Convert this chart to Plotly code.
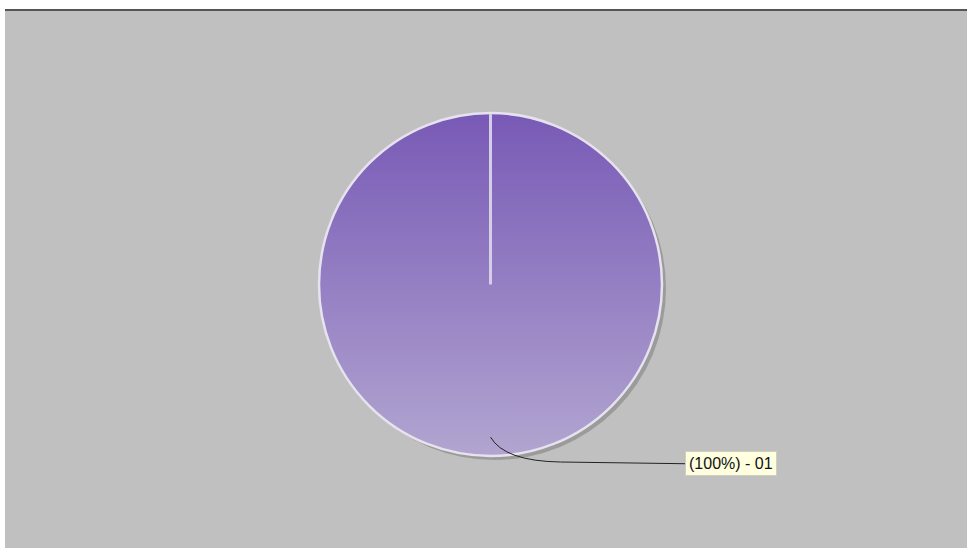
import numpy as np
import plotly.graph_objects as go

# ---- data ----
labels = ["01"]
values = [100]
label_texts = ["(100%) - 01"]

# ---- geometry (pixel space of the 971x548 canvas) ----
W, H = 971, 548
ML, MR, MT, MB = 5, 4, 10, 0
CX, CY, R = 490.5, 284.5, 171.5

top_c = (120, 90, 182)
bot_c = (178, 166, 208)
alpha = 0.3
mid = (149, 130, 192)
def under(c):
    return "rgb(%d,%d,%d)" % tuple(max(0, min(255, round((c[i] - alpha * mid[i]) / (1 - alpha)))) for i in range(3))

fig = go.Figure()

# gradient underlay for the slice
t = np.linspace(0, 2 * np.pi, 361)
fig.add_trace(go.Scatter(
    x=CX + R * np.cos(t), y=CY + R * np.sin(t),
    mode="lines", line=dict(width=0), fill="toself",
    fillgradient=dict(type="vertical", start=CY - R, stop=CY + R,
                      colorscale=[[0, under(top_c)], [1, under(bot_c)]]),
    hoverinfo="skip", showlegend=False))

pw = W - ML - MR
ph = H - MT - MB
fig.add_trace(go.Pie(
    labels=labels, values=values, sort=False, direction="clockwise", rotation=0,
    marker=dict(colors=["rgba(%d,%d,%d,%.2f)" % (*mid, alpha)],
                line=dict(color="#E6E2EE", width=2.5)),
    textinfo="none", hoverinfo="label+percent", showlegend=False,
    domain=dict(x=[(CX - R - ML) / pw, (CX + R - ML) / pw],
                y=[(H - CY - R - MB) / ph, (H - CY + R - MB) / ph])))

LY = CY + R * 1.045
shapes = [
    # drop shadow
    dict(type="circle", xref="x", yref="y", layer="below",
         x0=CX - R + 4, x1=CX + R + 4, y0=CY - R + 4, y1=CY + R + 4,
         fillcolor="rgba(140,140,140,0.7)", line=dict(width=0)),
    # radial slice edge
    dict(type="line", xref="x", yref="y", x0=CX, x1=CX, y0=CY, y1=CY - R + 1,
         line=dict(color="#D6CDE6", width=3)),
    # connector
    dict(type="path", xref="x", yref="y",
         path="M %f,%f Q %f,%f %f,%f L %f,%f" % (CX, CY + R * 0.89, CX + 14, CY + R * 1.03,
                                                   CX + 70, CY + R * 1.035, 685, LY),
         line=dict(color="#222222", width=1)),
    # top border line
    dict(type="line", xref="paper", yref="paper", x0=0, x1=1, y0=1, y1=1,
         line=dict(color="#555555", width=2)),
]

fig.update_layout(
    width=W, height=H,
    margin=dict(l=ML, r=MR, t=MT, b=MB),
    paper_bgcolor="white", plot_bgcolor="#C0C0C0",
    xaxis=dict(range=[ML, W - MR], visible=False, fixedrange=True),
    yaxis=dict(range=[H - MB, MT], visible=False, fixedrange=True),
    shapes=shapes,
    annotations=[dict(x=685, y=LY, xref="x", yref="y", xanchor="left", yanchor="middle",
                      text=label_texts[0], showarrow=False,
                      font=dict(family="Arial", size=16, color="#111111"),
                      bgcolor="#FFFFE0", bordercolor="#CFCFC0", borderwidth=1, borderpad=3)],
)

fig.write_html("out.html", config={"displayModeBar": False},
               post_script="document.body.style.margin='0';")
